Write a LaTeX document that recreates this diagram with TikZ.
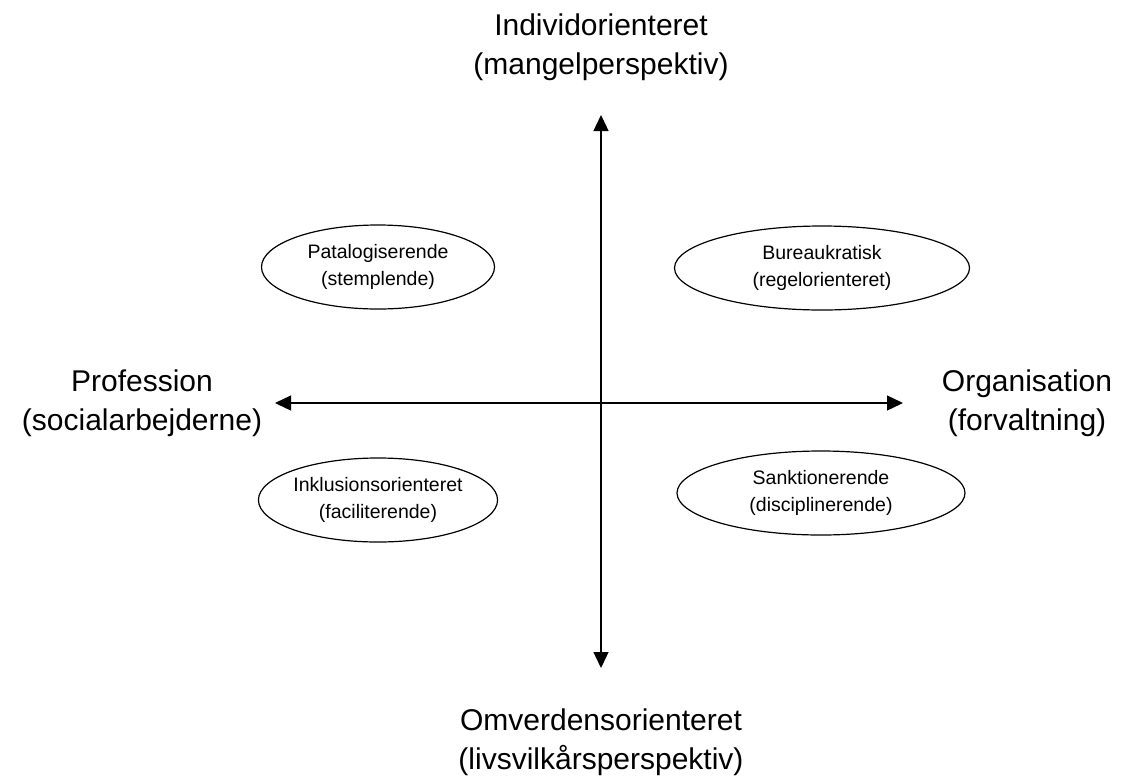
\documentclass[tikz,border=0pt]{standalone}
\usepackage{fontspec}
\setmainfont{Liberation Sans}
\usetikzlibrary{arrows.meta,shapes.geometric}
\begin{document}
\begin{tikzpicture}[x=1pt,y=-1pt,
  axislabel/.style={align=center,font=\fontsize{30}{39}\selectfont,inner sep=0pt},
  quad/.style={draw,ellipse,line width=1.2pt,inner sep=0pt,align=center,font=\fontsize{19.5}{27}\selectfont},
  axis/.style={line width=1.3pt,{Triangle[length=16pt,width=15pt]}-{Triangle[length=16pt,width=15pt]}}]
\useasboundingbox[fill=white] (0,0) rectangle (1127,780);
\coordinate (vt) at (601,115);
\coordinate (vb) at (601,668);
\coordinate (hl) at (275,403);
\coordinate (hr) at (903,403);
\draw[axis] (vt) -- (vb);
\draw[axis] (hl) -- (hr);
\node[axislabel] (top) at (601,47) {Individorienteret\\(mangelperspektiv)};
\node[axislabel] (bot) at (601,742) {Omverdensorienteret\\(livsvilkårsperspektiv)};
\node[axislabel] (left) at (142,403) {Profession\\(socialarbejderne)};
\node[axislabel] (right) at (1027,403) {Organisation\\(forvaltning)};
\node[quad,minimum width=233pt,minimum height=84pt] (tl) at (378,267) {Patalogiserende\\(stemplende)};
\node[quad,minimum width=295pt,minimum height=84pt] (tr) at (822,268) {Bureaukratisk\\(regelorienteret)};
\node[quad,minimum width=232pt,minimum height=84pt] (bl) at (378,500) {Inklusionsorienteret\\(faciliterende)};
\node[quad,minimum width=288pt,minimum height=84pt] (br) at (821,493) {Sanktionerende\\(disciplinerende)};
\end{tikzpicture}
\end{document}
